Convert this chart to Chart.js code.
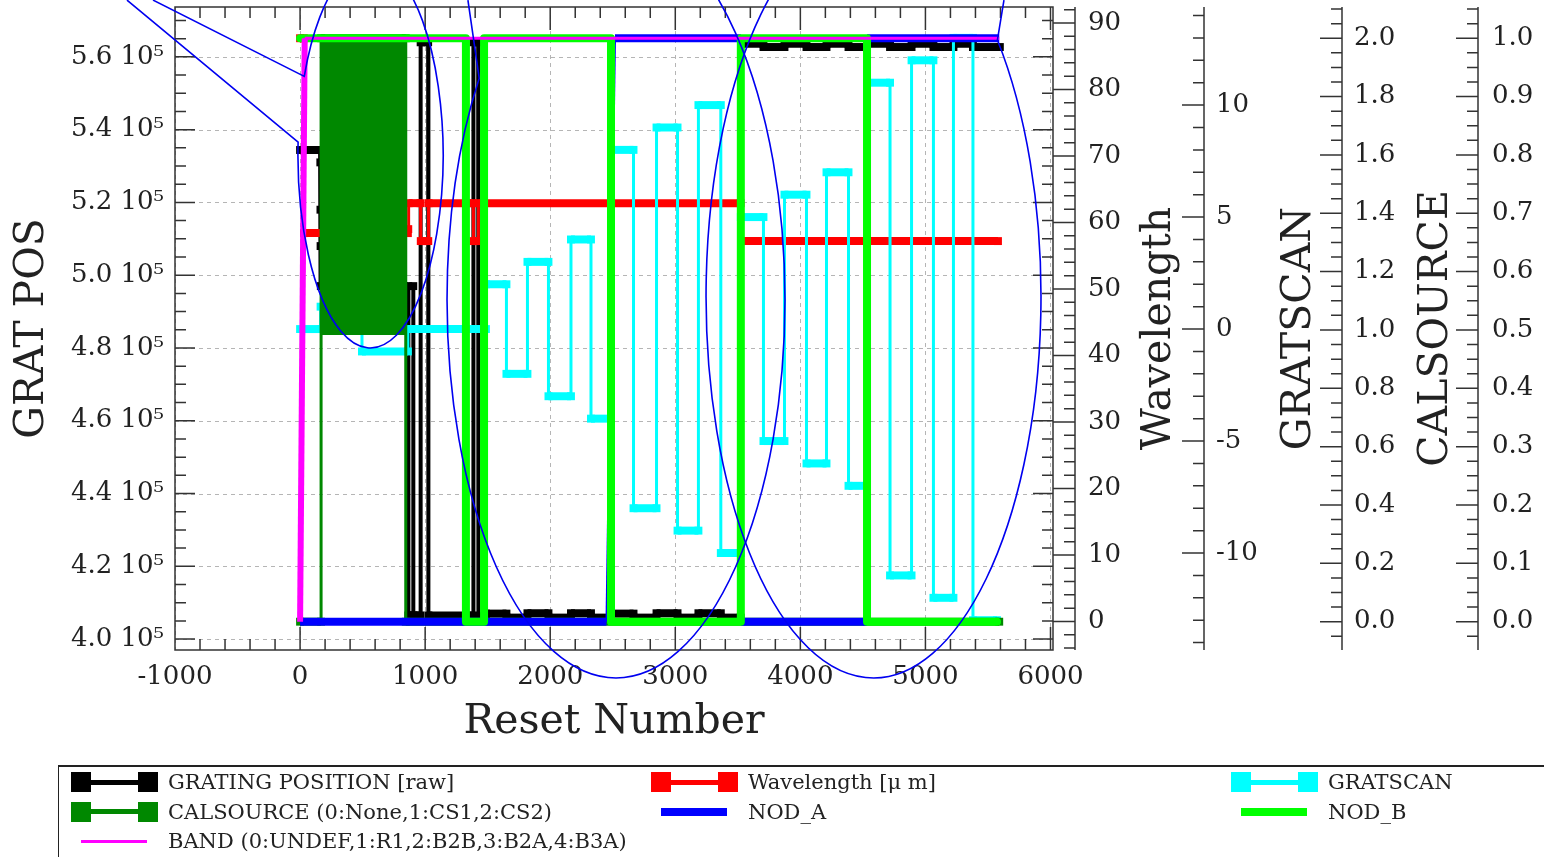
<!DOCTYPE html>
<html>
<head>
<meta charset="utf-8">
<title>GRAT POS</title>
<script src="https://cdn.jsdelivr.net/npm/chart.js@4.4.1/dist/chart.umd.min.js"></script>
<style>
  html, body { margin: 0; padding: 0; background: #fff; overflow: hidden; }
  #wrap { position: relative; width: 1544px; height: 857px; }
  #legend { position: absolute; left: 58px; top: 765px; width: 1540px; height: 110px;
    border-top: 2px solid #222; border-left: 1px solid #222;
    font-family: 'DejaVu Serif'; font-size: 21px; color: #222; }
  .item { position: absolute; height: 22px; width: 560px; white-space: nowrap; }
  .item .t { position: absolute; left: 97px; top: 0; line-height: 22px; }
  .sq { position: absolute; top: 1px; width: 20px; height: 20px; }
  .ln { position: absolute; }
</style>
</head>
<body>
<div id="wrap">
  <canvas id="myChart"></canvas>
  <div id="legend"></div>
</div>
<script>
// grating position (raw) vs reset number
const gratX = [0, 160, 162, 163, 164, 166, 865, 866, 904, 905, 906, 962, 964, 1024, 1026, 1384, 1386, 1424, 1426,
  1486, 1486, 1650, 1650, 1818, 1818, 1986, 1986, 2166, 2166, 2326, 2326, 2486, 2486, 2666, 2666, 2850, 2850,
  3018, 3018, 3185, 3185, 3364, 3364, 3522,
  3526, 3705, 3705, 3873, 3873, 4049, 4049, 4209, 4209, 4385, 4385, 4533, 4533, 4717, 4717, 4889, 4889,
  5064, 5064, 5224, 5224, 5380, 5380, 5595];
const gratY = [534400, 534400, 531000, 518000, 508000, 497000, 497000, 406500, 406500, 497000, 406500, 406500,
  564000, 564000, 406500, 406500, 564000, 564000, 406200,
  406200, 407000, 407000, 405900, 405900, 407100, 407100, 405900, 405900, 407100, 407100, 405900, 405900,
  407000, 407000, 405900, 405900, 407100, 407100, 405900, 405900, 407100, 407100, 405900, 405900,
  563600, 563600, 562700, 562700, 563600, 563600, 562700, 562700, 563600, 563600, 562700, 562700,
  563600, 563600, 562700, 562700, 563600, 563600, 562700, 562700, 563600, 563600, 562700, 562700];

// wavelength [um]
const wlX = [0, 30, 32, 862, 865, 868, 963, 965, 1025, 1027, 1384, 1386, 1424, 1426, 3522, 3526, 5580];
const wlY = [87.7, 87.7, 58.4, 58.4, 59.0, 62.9, 62.9, 57.2, 57.2, 62.9, 62.9, 57.2, 57.2, 62.9, 62.9, 57.2, 57.2];

// gratscan: level start positions (last entry = end) and level values
const scanEdges = [0, 164, 495, 862, 1486, 1650, 1818, 1986, 2166, 2326, 2486, 2666, 2850, 3018, 3185, 3364,
  3524, 3705, 3873, 4049, 4209, 4385, 4533, 4717, 4889, 5064, 5224, 5380, 5572];
const scanVal = [0, 1, -1, 0, 2, -2, 3, -3, 4, -4, 8, -8, 9, -9, 10, -10, 5, -5, 6, -6, 7, -7, 11, -11, 12, -12, 13, -13];

// calsource (fast switching between 1 and 2 in the first block)
const calEdges = [0, 168, 845, 5590];
const calVal = [0, 2, 0];

// nod A / nod B / band
const nodAX = [0, 2450, 2518, 3524, 3524, 4533, 4533, 5590];
const nodAY = [0, 0, 1, 1, 0, 0, 1, 1];
const nodBX = [0, 1326, 1326, 1471, 1471, 2486, 2486, 3524, 3524, 4533, 4533, 5572];
const nodBY = [1, 1, 0, 0, 1, 1, 0, 0, 1, 1, 0, 0];
const bandX = [0, 37, 5590];
const bandY = [0, 1, 1];

// tick values of the two main axes
const resetTicks = [-1000, 0, 1000, 2000, 3000, 4000, 5000, 6000];
const gratTicks = [400000, 420000, 440000, 460000, 480000, 500000, 520000, 540000, 560000];

// hand drawn callouts: centre, radii (reset number / grat pos), arc angles, tail tips
const calloutCX = [563, 2526, 4585];
const calloutCY = [533000, 493160, 494124];
const calloutRX = [580, 1351, 1339];
const calloutRY = [53000, 103846, 104808];
const calloutFrom = [3.562, -Math.PI / 2, -0.738];
const calloutTo = [3.209 + 2 * Math.PI, 3.769, 1.5 * Math.PI];
const tailStart = [[-1176, 575600], null, [5628, 575600]];
const tailEnd = [[-1384, 575600], [1342, 575600], null];

const minorStep = { x: 200, y: 5000, y1: 2, y2: 1, y3: 0.05, y4: 0.025 };

function pts(xs, ys) {
    return xs.map((x, i) => ({ x: x, y: ys[i] }));
}
function steps(edges, vals) {
    const out = [];
    vals.forEach((v, i) => {
        out.push({ x: edges[i], y: v }, { x: edges[i + 1], y: v });
    });
    return out;
}
// flat runs look thick (dense square symbols), jumps are thin
function flat(wide, thin) {
    return { borderWidth: c => (c.p0.parsed.y === c.p1.parsed.y ? wide : thin) };
}

function eachMinor(s, step, fn) {
    const k0 = Math.ceil(s.min / step - 1e-6);
    const k1 = Math.floor(s.max / step + 1e-6);
    for (let k = k0; k <= k1; k++) fn(s.getPixelForValue(k * step));
}

const idlAxes = {
    id: 'idlAxes',
    beforeDatasetsDraw(chart) {
        const { ctx, chartArea: a, scales: s } = chart;
        ctx.save();
        ctx.strokeStyle = '#b5b5b5';
        ctx.lineWidth = 1;
        ctx.setLineDash([4, 4]);
        ctx.beginPath();
        s.x.ticks.forEach(t => {
            const p = Math.round(s.x.getPixelForValue(t.value)) + 0.5;
            ctx.moveTo(p, a.top); ctx.lineTo(p, a.bottom);
        });
        s.y.ticks.forEach(t => {
            const p = Math.round(s.y.getPixelForValue(t.value)) + 0.5;
            ctx.moveTo(a.left, p); ctx.lineTo(a.right, p);
        });
        ctx.stroke();
        ctx.setLineDash([]);

        ctx.strokeStyle = '#333';
        ctx.lineWidth = 1.5;
        ctx.beginPath();
        ctx.rect(a.left, a.top, a.right - a.left, a.bottom - a.top);
        const hx = (p, len) => {
            ctx.moveTo(p, a.bottom); ctx.lineTo(p, a.bottom - len);
            ctx.moveTo(p, a.top); ctx.lineTo(p, a.top + len);
        };
        eachMinor(s.x, minorStep.x, p => hx(p, 11));
        s.x.ticks.forEach(t => hx(s.x.getPixelForValue(t.value), 23));
        const vy = (p, len) => {
            ctx.moveTo(a.left, p); ctx.lineTo(a.left + len, p);
            ctx.moveTo(a.right, p); ctx.lineTo(a.right - len, p);
        };
        eachMinor(s.y, minorStep.y, p => vy(p, 11));
        s.y.ticks.forEach(t => vy(s.y.getPixelForValue(t.value), 20));
        ['y1', 'y2', 'y3', 'y4'].forEach(id => {
            const sc = s[id];
            const lx = sc.left + 22;
            ctx.moveTo(lx, a.top); ctx.lineTo(lx, a.bottom);
            eachMinor(sc, minorStep[id], p => { ctx.moveTo(lx - 11, p); ctx.lineTo(lx, p); });
            sc.ticks.forEach(t => {
                const p = sc.getPixelForValue(t.value);
                ctx.moveTo(sc.left, p); ctx.lineTo(lx, p);
            });
        });
        ctx.stroke();
        ctx.restore();
    },
    afterDraw(chart) {
        // right hand axis titles read bottom to top
        const { ctx, chartArea: a, scales: s } = chart;
        [['y1', 106], ['y2', 117], ['y3', 116]].forEach(([id, off]) => {
            const sc = s[id];
            ctx.save();
            ctx.translate(sc.left + off, (a.top + a.bottom) / 2);
            ctx.rotate(-Math.PI / 2);
            ctx.font = '41px "DejaVu Serif"';
            ctx.fillStyle = '#222';
            ctx.textAlign = 'center';
            ctx.textBaseline = 'middle';
            ctx.fillText(sc.options.title.text, 0, 0);
            ctx.restore();
        });
    }
};

const callouts = {
    id: 'callouts',
    afterDraw(chart) {
        const { ctx, scales: { x, y } } = chart;
        ctx.save();
        ctx.strokeStyle = '#0000f0';
        ctx.lineWidth = 1.6;
        calloutCX.forEach((cx, i) => {
            const px = x.getPixelForValue(cx);
            const py = y.getPixelForValue(calloutCY[i]);
            const rx = x.getPixelForValue(cx + calloutRX[i]) - px;
            const ry = py - y.getPixelForValue(calloutCY[i] + calloutRY[i]);
            ctx.beginPath();
            if (tailStart[i]) ctx.moveTo(x.getPixelForValue(tailStart[i][0]), y.getPixelForValue(tailStart[i][1]));
            ctx.ellipse(px, py, rx, ry, 0, calloutFrom[i], calloutTo[i]);
            if (tailEnd[i]) ctx.lineTo(x.getPixelForValue(tailEnd[i][0]), y.getPixelForValue(tailEnd[i][1]));
            ctx.stroke();
        });
        ctx.restore();
    }
};

Chart.defaults.font.family = "'DejaVu Serif', serif";
Chart.defaults.color = '#222';

const sym = { pointStyle: 'rect', pointRadius: 5.6, pointBorderWidth: 0, tension: 0, fill: false };

const datasets = [
    Object.assign({ label: 'GRATING POSITION [raw]', data: pts(gratX, gratY), yAxisID: 'y', order: 7,
        borderColor: '#000000', pointBackgroundColor: '#000000', borderWidth: 3, segment: flat(8, 4) }, sym),
    Object.assign({ label: 'Wavelength [\u03bc m]', data: pts(wlX, wlY), yAxisID: 'y1', order: 6,
        borderColor: '#ff0000', pointBackgroundColor: '#ff0000', borderWidth: 3, segment: flat(8, 3) }, sym),
    Object.assign({ label: 'GRATSCAN', data: steps(scanEdges, scanVal), yAxisID: 'y2', order: 5,
        borderColor: '#00ffff', pointBackgroundColor: '#00ffff', borderWidth: 3, segment: flat(8, 3) }, sym),
    Object.assign({}, sym, { label: 'CALSOURCE (0:None,1:CS1,2:CS2)', data: steps(calEdges, calVal), yAxisID: 'y3', order: 4,
        borderColor: '#008800', pointBackgroundColor: '#008800', borderWidth: 3, segment: flat(8, 3),
        fill: { target: { value: 0.983 }, above: '#008800', below: 'rgba(0,0,0,0)' } }),
    { label: 'NOD_A', data: pts(nodAX, nodAY), yAxisID: 'y4', order: 3, borderColor: '#0000ff',
        borderWidth: 8, pointRadius: 0, tension: 0, fill: false, segment: flat(8, 2) },
    { label: 'NOD_B', data: pts(nodBX, nodBY), yAxisID: 'y4', order: 2, borderColor: '#00ff00',
        borderWidth: 8, borderJoinStyle: 'round', borderCapStyle: 'round', pointRadius: 0, tension: 0, fill: false },
    { label: 'BAND (0:UNDEF,1:R1,2:B2B,3:B2A,4:B3A)', data: pts(bandX, bandY), yAxisID: 'y4', order: 1,
        borderColor: '#ff00ff', borderWidth: 3, pointRadius: 0, tension: 0, fill: false, segment: flat(3, 6) }
];

const noPad = s => { s.paddingTop = 0; s.paddingBottom = 0; s.paddingLeft = 0; s.paddingRight = 0; };
const fixTicks = list => s => { s.ticks = list.map(v => ({ value: v })); };
const rightAxis = (min, max, step, pad, width, title, digits) => ({
    type: 'linear', position: 'right', min: min, max: max,
    grid: { display: false, drawTicks: false }, border: { display: false },
    title: { display: false, text: title },
    ticks: { stepSize: step, padding: pad, includeBounds: false, font: { size: 26 }, color: '#222',
        callback: v => (digits ? v.toFixed(digits) : String(v)) },
    afterFit: s => { s.width = width; noPad(s); }
});

let ctx = document.getElementById('myChart').getContext('2d');

const chart = new Chart(ctx, {
    type: 'line',
    data: { datasets: datasets },
    options: {
        responsive: true,
        maintainAspectRatio: false,
        animation: false,
        events: [],
        layout: { autoPadding: false, padding: { top: 7, bottom: 97, left: 0, right: 0 } },
        plugins: { legend: { display: false }, tooltip: { enabled: false } },
        scales: {
            x: {
                type: 'linear', position: 'bottom', min: -1000, max: 6020,
                grid: { display: false, drawTicks: false }, border: { display: false },
                afterBuildTicks: fixTicks(resetTicks),
                ticks: { padding: 12, autoSkip: false, maxRotation: 0, font: { size: 26 }, color: '#222',
                    callback: v => String(v) },
                title: { display: true, text: 'Reset Number', font: { size: 41 }, color: '#222',
                    padding: { top: 0, bottom: 13 } },
                afterFit: s => { s.height = 110; noPad(s); }
            },
            y: {
                type: 'linear', position: 'left', min: 397000, max: 573700,
                grid: { display: false, drawTicks: false }, border: { display: false },
                afterBuildTicks: fixTicks(gratTicks),
                ticks: { padding: 11, autoSkip: false, font: { size: 26 }, color: '#222',
                    callback: v => (v / 1e5).toFixed(1) + ' 10\u2075' },
                title: { display: true, text: 'GRAT POS', font: { size: 41 }, color: '#222',
                    padding: { top: 8, bottom: 0 } },
                afterFit: s => { s.width = 175; noPad(s); }
            },
            y1: rightAxis(-4.29, 92.4, 10, 35, 129, 'Wavelength', 0),
            y2: rightAxis(-14.33, 14.38, 5, 34, 138, 'GRATSCAN', 0),
            y3: rightAxis(-0.097, 2.107, 0.2, 34, 136, 'CALSOURCE', 1),
            y4: rightAxis(-0.0485, 1.0535, 0.1, 36, 88, '', 1)
        }
    },
    plugins: [idlAxes, callouts]
});

// legend box under the plot, three columns
const legendBox = document.getElementById('legend');
chart.data.datasets.forEach((ds, i) => {
    const it = document.createElement('div');
    it.className = 'item';
    it.style.left = (12 + (i % 3) * 580) + 'px';
    it.style.top = (4 + Math.floor(i / 3) * 29.5) + 'px';
    const w = ds.pointRadius ? 5 : ds.borderWidth;
    const ln = document.createElement('div');
    ln.className = 'ln';
    ln.style.cssText = 'left:10px;width:' + (ds.pointRadius ? 67 : 66) + 'px;top:' + (11 - w / 2) +
        'px;height:' + w + 'px;background:' + ds.borderColor;
    it.appendChild(ln);
    if (ds.pointRadius) {
        [0, 67].forEach(l => {
            const q = document.createElement('div');
            q.className = 'sq';
            q.style.left = l + 'px';
            q.style.background = ds.borderColor;
            it.appendChild(q);
        });
    }
    const t = document.createElement('span');
    t.className = 't';
    t.textContent = ds.label;
    it.appendChild(t);
    legendBox.appendChild(it);
});
</script>
</body>
</html>
